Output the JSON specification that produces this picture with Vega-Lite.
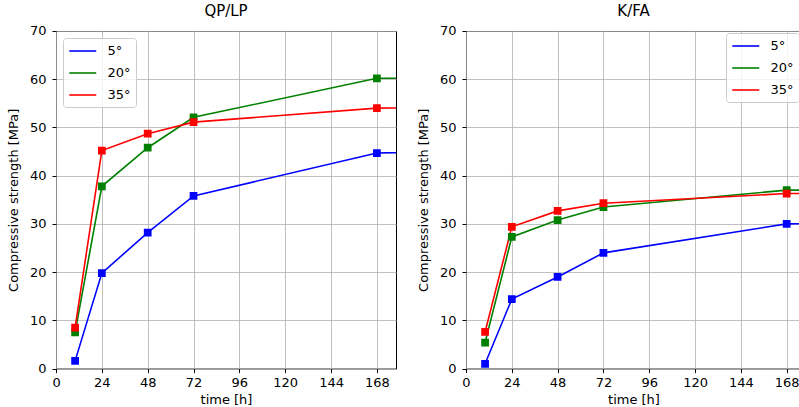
{
  "$schema": "https://vega.github.io/schema/vega-lite/v6.json",
  "padding": {"left": 6, "top": 3, "right": 0, "bottom": 0},
  "background": "white",
  "spacing": 19,
  "config": {
    "font": "DejaVu Sans",
    "view": {"stroke": "black", "strokeWidth": 1},
    "axis": {
      "labelFont": "DejaVu Sans", "labelFontSize": 13, "labelColor": "#000000",
      "titleFont": "DejaVu Sans", "titleFontSize": 13, "titleFontWeight": "normal", "titleColor": "#000000",
      "domain": false, "tickColor": "#000000", "tickSize": 4, "tickWidth": 1,
      "gridColor": "#b0b0b0", "gridWidth": 0.8, "gridOpacity": 1
    },
    "axisX": {"labelPadding": 4, "titlePadding": 4, "labelFlush": false},
    "axisY": {"labelPadding": 6, "titlePadding": 9},
    "title": {"font": "DejaVu Sans", "fontSize": 15, "fontWeight": "normal", "color": "#000000", "offset": 6},
    "legend": {
      "labelFont": "DejaVu Sans", "labelFontSize": 13, "labelColor": "#000000",
      "symbolType": "M-1,0H3", "symbolSize": 182, "symbolStrokeWidth": 1.6,
      "padding": 5, "rowPadding": 7, "labelOffset": 23.5,
      "strokeColor": "#cccccc", "fillColor": "rgba(255,255,255,0.8)", "cornerRadius": 3,
      "title": null
    }
  },
  "datasets": {
    "qplp": [
      {"t": 10, "T": "5°", "s": 1.6}, {"t": 24, "T": "5°", "s": 19.8}, {"t": 48, "T": "5°", "s": 28.2}, {"t": 72, "T": "5°", "s": 35.8}, {"t": 168, "T": "5°", "s": 44.7}, {"t": 672, "T": "5°", "s": 49.0},
      {"t": 10, "T": "20°", "s": 7.5}, {"t": 24, "T": "20°", "s": 37.8}, {"t": 48, "T": "20°", "s": 45.8}, {"t": 72, "T": "20°", "s": 52.1}, {"t": 168, "T": "20°", "s": 60.2}, {"t": 672, "T": "20°", "s": 61.5},
      {"t": 10, "T": "35°", "s": 8.5}, {"t": 24, "T": "35°", "s": 45.2}, {"t": 48, "T": "35°", "s": 48.7}, {"t": 72, "T": "35°", "s": 51.1}, {"t": 168, "T": "35°", "s": 54.0}, {"t": 672, "T": "35°", "s": 56.0}
    ],
    "kfa": [
      {"t": 10, "T": "5°", "s": 1.0}, {"t": 24, "T": "5°", "s": 14.4}, {"t": 48, "T": "5°", "s": 19.0}, {"t": 72, "T": "5°", "s": 24.0}, {"t": 168, "T": "5°", "s": 30.0}, {"t": 672, "T": "5°", "s": 33.0},
      {"t": 10, "T": "20°", "s": 5.4}, {"t": 24, "T": "20°", "s": 27.3}, {"t": 48, "T": "20°", "s": 30.8}, {"t": 72, "T": "20°", "s": 33.5}, {"t": 168, "T": "20°", "s": 37.0}, {"t": 672, "T": "20°", "s": 38.0},
      {"t": 10, "T": "35°", "s": 7.6}, {"t": 24, "T": "35°", "s": 29.4}, {"t": 48, "T": "35°", "s": 32.7}, {"t": 72, "T": "35°", "s": 34.3}, {"t": 168, "T": "35°", "s": 36.3}, {"t": 672, "T": "35°", "s": 37.5}
    ]
  },
  "hconcat": [
    {
      "title": "QP/LP",
      "width": 340,
      "height": 337.6,
      "data": {"name": "qplp"},
      "encoding": {
        "x": {"field": "t", "type": "quantitative", "title": "time [h]",
              "scale": {"domain": [0, 178], "nice": false, "zero": false},
              "axis": {"values": [0, 24, 48, 72, 96, 120, 144, 168]}},
        "y": {"field": "s", "type": "quantitative", "title": "Compressive strength [MPa]",
              "scale": {"domain": [0, 70], "nice": false},
              "axis": {"values": [0, 10, 20, 30, 40, 50, 60, 70]}}
      },
      "layer": [
        {
          "mark": {"type": "line", "strokeWidth": 1.6, "clip": true},
          "encoding": {
            "color": {"field": "T", "type": "nominal",
                      "scale": {"domain": ["5°", "20°", "35°"], "range": ["#0000ff", "#008000", "#ff0000"]},
                      "legend": {"orient": "top-left", "offset": 7}},
            "detail": {"field": "T"}
          }
        },
        {
          "mark": {"type": "point", "shape": "square", "filled": true, "opacity": 1, "size": 60, "clip": true},
          "encoding": {
            "color": {"field": "T", "type": "nominal",
                      "scale": {"domain": ["5°", "20°", "35°"], "range": ["#0000ff", "#008000", "#ff0000"]},
                      "legend": null}
          }
        }
      ]
    },
    {
      "title": "K/FA",
      "width": 335,
      "height": 337.6,
      "data": {"name": "kfa"},
      "encoding": {
        "x": {"field": "t", "type": "quantitative", "title": "time [h]",
              "scale": {"domain": [0, 175.5], "nice": false, "zero": false},
              "axis": {"values": [0, 24, 48, 72, 96, 120, 144, 168]}},
        "y": {"field": "s", "type": "quantitative", "title": "Compressive strength [MPa]",
              "scale": {"domain": [0, 70], "nice": false},
              "axis": {"values": [0, 10, 20, 30, 40, 50, 60, 70]}}
      },
      "layer": [
        {
          "mark": {"type": "line", "strokeWidth": 1.6, "clip": true},
          "encoding": {
            "color": {"field": "T", "type": "nominal",
                      "scale": {"domain": ["5°", "20°", "35°"], "range": ["#0000ff", "#008000", "#ff0000"]},
                      "legend": {"orient": "top-right", "offset": 2}},
            "detail": {"field": "T"}
          }
        },
        {
          "mark": {"type": "point", "shape": "square", "filled": true, "opacity": 1, "size": 60, "clip": true},
          "encoding": {
            "color": {"field": "T", "type": "nominal",
                      "scale": {"domain": ["5°", "20°", "35°"], "range": ["#0000ff", "#008000", "#ff0000"]},
                      "legend": null}
          }
        }
      ]
    }
  ],
  "resolve": {"scale": {"color": "independent"}, "legend": {"color": "independent"}}
}
